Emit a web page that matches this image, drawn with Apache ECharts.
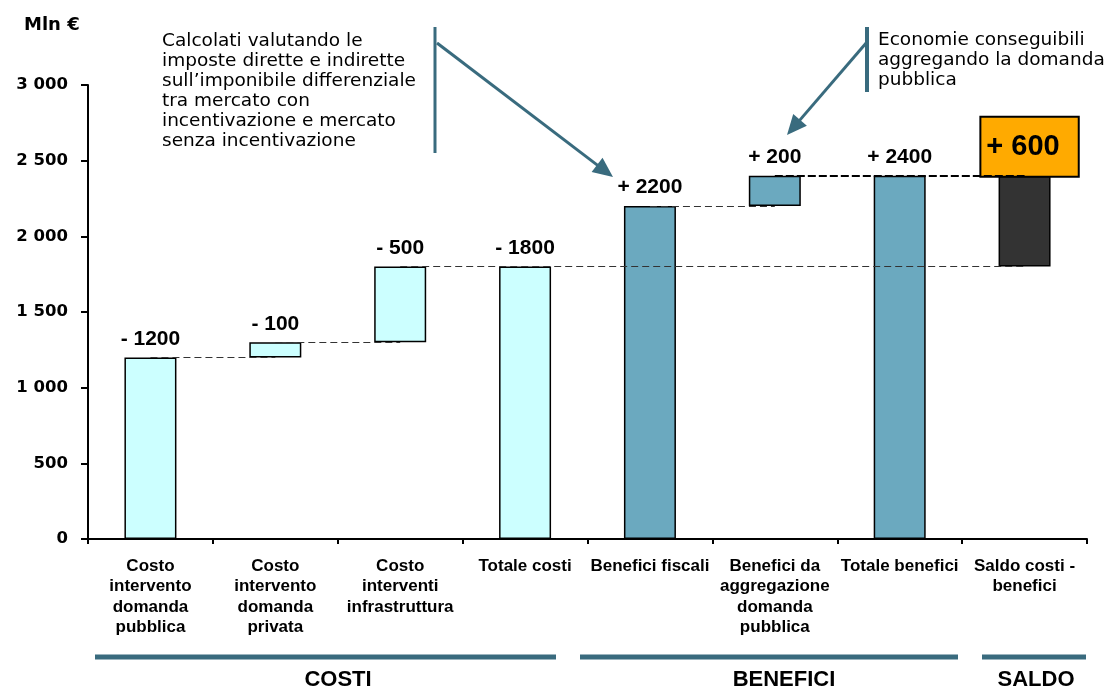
<!DOCTYPE html>
<html>
<head>
<meta charset="utf-8">
<script src="https://cdn.jsdelivr.net/npm/echarts@6/dist/echarts.min.js"></script>
<style>
  html, body { margin: 0; padding: 0; background: #fff; }
  #chart { width: 1109px; height: 689px; }
</style>
</head>
<body>
<div id="chart"></div>
<script>
// categorie e valori
var categories = [
  "Costo\nintervento\ndomanda\npubblica",
  "Costo\nintervento\ndomanda\nprivata",
  "Costo\ninterventi\ninfrastruttura",
  "Totale costi",
  "Benefici fiscali",
  "Benefici da\naggregazione\ndomanda\npubblica",
  "Totale benefici",
  "Saldo costi -\nbenefici"
];
var deltas = [-1200, -100, -500, -1800, 2200, 200, 2400, 600];
var bases = [0, 1200, 1300, 0, 0, 2200, 0, 1800];
var heights = [1200, 100, 500, 1800, 2200, 200, 2400, 600];
var barColors = ["#CCFFFF", "#CCFFFF", "#CCFFFF", "#CCFFFF", "#6BA9BF", "#6BA9BF", "#6BA9BF", "#333333"];
// linee tratteggiate di collegamento [da, a, livello]
var links = [[0, 1, 1200], [1, 2, 1300], [2, 7, 1800], [4, 5, 2200]];
var linksBold = [[5, 7, 2400]];
var groups = ["COSTI", "BENEFICI", "SALDO"];

var teal = "#396B7E";
var labelFont = "Liberation Sans";
var wideFont = "DejaVu Sans";

function fmtThousands(v) {
  return String(v).replace(/\B(?=(\d{3})+(?!\d))/g, " ");
}

function arrow(x1, y1, x2, y2) {
  var dx = x2 - x1, dy = y2 - y1;
  var len = Math.sqrt(dx * dx + dy * dy);
  var ux = dx / len, uy = dy / len;
  var hl = 20, hw = 9;
  var bx = x2 - ux * hl, by = y2 - uy * hl;
  return [
    { type: "line", shape: { x1: x1, y1: y1, x2: bx + ux * 2, y2: by + uy * 2 }, style: { stroke: teal, lineWidth: 3 } },
    { type: "polygon", shape: { points: [[x2, y2], [bx - uy * hw, by + ux * hw], [bx + uy * hw, by - ux * hw]] }, style: { fill: teal } }
  ];
}

var chart = echarts.init(document.getElementById("chart"));

var barData = heights.map(function (h, i) {
  var item = {
    value: h,
    itemStyle: { color: barColors[i], borderColor: "#000", borderWidth: 1.5 }
  };
  if (i === 7) {
    item.label = {
      show: true,
      position: "top",
      distance: 0,
      offset: [5, 0],
      formatter: "+ " + deltas[i],
      fontSize: 29,
      fontWeight: "bold",
      fontFamily: labelFont,
      color: "#000",
      backgroundColor: "#FFAA00",
      borderColor: "#000",
      borderWidth: 2,
      padding: [15, 18, 14, 5]
    };
  }
  return item;
});

var graphics = [
  { type: "text", left: 24, top: 16, style: { text: "Mln €", font: "bold 18px " + wideFont, fill: "#000" } },
  { type: "text", left: 162, top: 31, style: {
      text: "Calcolati valutando le\nimposte dirette e indirette\nsull\u2019imponibile differenziale\ntra mercato con\nincentivazione e mercato\nsenza incentivazione",
      font: "18.5px " + wideFont, lineHeight: 20, fill: "#000" } },
  { type: "line", shape: { x1: 435, y1: 27, x2: 435, y2: 153 }, style: { stroke: teal, lineWidth: 3 } },
  { type: "text", left: 878, top: 30, style: {
      text: "Economie conseguibili\naggregando la domanda\npubblica",
      font: "18.5px " + wideFont, lineHeight: 20, fill: "#000" } },
  { type: "line", shape: { x1: 867, y1: 27, x2: 867, y2: 92 }, style: { stroke: teal, lineWidth: 4 } },
  // barre dei gruppi in basso
  { type: "line", shape: { x1: 95, y1: 657, x2: 556, y2: 657 }, style: { stroke: teal, lineWidth: 5 } },
  { type: "line", shape: { x1: 580, y1: 657, x2: 958, y2: 657 }, style: { stroke: teal, lineWidth: 5 } },
  { type: "line", shape: { x1: 982, y1: 657, x2: 1086, y2: 657 }, style: { stroke: teal, lineWidth: 5 } },
  { type: "text", x: 338, y: 680, style: { text: groups[0], font: "bold 22px " + labelFont, fill: "#000", align: "center", verticalAlign: "middle" } },
  { type: "text", x: 784, y: 680, style: { text: groups[1], font: "bold 22px " + labelFont, fill: "#000", align: "center", verticalAlign: "middle" } },
  { type: "text", x: 1036, y: 680, style: { text: groups[2], font: "bold 22px " + labelFont, fill: "#000", align: "center", verticalAlign: "middle" } }
].concat(arrow(437, 43, 613, 177)).concat(arrow(867, 42, 787, 135));

chart.setOption({
  animation: false,
  backgroundColor: "#fff",
  grid: { left: 88, right: 22, top: 85, bottom: 150, containLabel: false },
  xAxis: {
    type: "category",
    data: categories,
    axisLine: { lineStyle: { color: "#000", width: 2 } },
    axisTick: { show: true, length: 5, lineStyle: { color: "#000", width: 2 } },
    axisLabel: {
      interval: 0, margin: 17, color: "#000", fontSize: 17, fontWeight: "bold",
      fontFamily: labelFont, lineHeight: 20.5
    }
  },
  yAxis: {
    type: "value",
    min: 0, max: 3000, interval: 500,
    splitLine: { show: false },
    axisLine: { show: true, lineStyle: { color: "#000", width: 2 } },
    axisTick: { show: true, length: 7, lineStyle: { color: "#000", width: 2 } },
    axisLabel: {
      margin: 20, color: "#000", fontSize: 16.5, fontWeight: "bold", fontFamily: wideFont,
      formatter: function (v) { return fmtThousands(v); }
    }
  },
  graphic: graphics,
  series: [
    {
      type: "bar",
      stack: "w",
      z: 1,
      barWidth: 52,
      data: bases,
      itemStyle: { color: "transparent" },
      silent: true,
      markLine: {
        silent: true,
        symbol: "none",
        label: { show: false },
        data: links.map(function (l) {
          return [
            { coord: [l[0], l[2]], lineStyle: { color: "#333", width: 1, type: [7, 4] } },
            { coord: [l[1], l[2]] }
          ];
        }).concat(linksBold.map(function (l) {
          return [
            { coord: [l[0], l[2]], lineStyle: { color: "#000", width: 2, type: [8, 3] } },
            { coord: [l[1], l[2]] }
          ];
        }))
      }
    },
    {
      type: "bar",
      stack: "w",
      z: 3,
      barWidth: 52,
      data: barData,
      label: {
        show: true,
        position: "top",
        distance: 8,
        fontSize: 21,
        fontWeight: "bold",
        fontFamily: labelFont,
        color: "#000",
        formatter: function (p) {
          var d = deltas[p.dataIndex];
          return (d < 0 ? "- " : "+ ") + Math.abs(d);
        }
      }
    }
  ]
});
</script>
</body>
</html>
